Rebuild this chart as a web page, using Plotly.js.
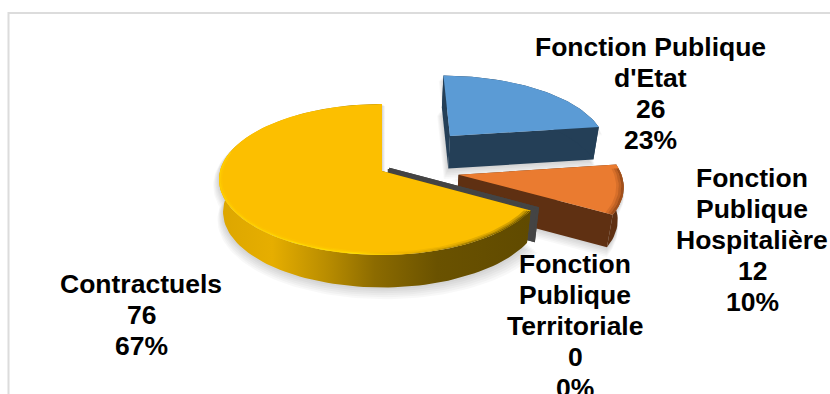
<!DOCTYPE html>
<html>
<head>
<meta charset="utf-8">
<script src="https://cdn.plot.ly/plotly-3.0.1.min.js"></script>
<style>html,body{margin:0;padding:0;background:#fff;overflow:hidden}#chart{width:830px;height:394px}</style>
</head>
<body>
<div id="chart"></div>
<script>
// Effectifs par type d'emploi
const categories = ["Fonction Publique d'Etat", "Fonction Publique Hospitalière", "Fonction Publique Territoriale", "Contractuels"];
const values = [26, 12, 0, 76];
const percents = [23, 10, 0, 67];
const labelLines = [["Fonction Publique", "d'Etat"], ["Fonction", "Publique", "Hospitalière"], ["Fonction", "Publique", "Territoriale"], ["Contractuels"]];

// Label block placement: centre x, first line y, in chart units
const labelAnchors = [[650, 47], [752, 178], [575, 264], [141, 284]];
const lineStep = 31;
const labelSize = 26.5;

// Slice displacement on the pie plane, in radius units
const sliceOffsets = [[0.443, 0.496], [0.47, -0.05], [0.044, 0.028], [0, 0]];

// Perspective camera for the tilted disc
const cam = {cx: 382, cy: 171, rx: 162, ry: 74.5, k: 0.1126, depth: 32.5, shrink: 0.975};

const topColors = ["#5b9bd5", "#ea7b30", "#444444", "#fcbf00"];
const wallColors = ["#243f57", "#5f3012", "#444444", "#6a5200"];
const yellowWallScale = [[0, "#dca600"], [0.17, "#e6ae00"], [0.35, "#b88c00"], [0.5, "#8c6b00"], [0.7, "#6a5200"], [1, "#604a00"]];

function project(X, Y) {
  const s = 1 / (1 + cam.k * Y);
  return [cam.cx + cam.rx * X * s, cam.cy - cam.ry * Y * s];
}
function lower(p) {
  return [cam.cx + (p[0] - cam.cx) * cam.shrink, p[1] + cam.depth];
}
function arc(i, a0, a1, r) {
  const pts = [], n = Math.max(2, Math.ceil(Math.abs(a1 - a0) / 2));
  for (let j = 0; j <= n; j++) {
    const t = (a0 + (a1 - a0) * j / n) * Math.PI / 180;
    pts.push(project(sliceOffsets[i][0] + r * Math.sin(t), sliceOffsets[i][1] + r * Math.cos(t)));
  }
  return pts;
}
function poly(pts, extra) {
  const closed = pts.concat([pts[0]]);
  return Object.assign({
    type: "scatter", mode: "lines", x: closed.map(p => p[0]), y: closed.map(p => p[1]),
    fill: "toself", line: {width: 0}, hoverinfo: "skip", showlegend: false
  }, extra);
}

// Slice spans follow from the values, clockwise from twelve o'clock
const total = values.reduce((a, b) => a + b, 0);
const spans = [];
values.reduce((acc, v) => { const end = acc + v / total * 360; spans.push([acc, end]); return end; }, 0);

const traces = [];

// Soft contact shadow: stacked, slightly grown copies of the faces
for (let level = 6; level >= 1; level--) {
  const xs = [], ys = [];
  spans.forEach((sp, i) => {
    if (values[i] === 0) return;
    const apex = project(sliceOffsets[i][0], sliceOffsets[i][1]);
    const face = [apex].concat(arc(i, sp[0], sp[1], 1));
    const gx = face.reduce((a, p) => a + p[0], 0) / face.length;
    const gy = face.reduce((a, p) => a + p[1], 0) / face.length;
    [face, face.map(lower)].forEach(f => {
      f.concat([f[0]]).forEach(p => {
        xs.push(gx + (p[0] - gx) * (1 + level * 0.009));
        ys.push(gy + (p[1] - gy) * (1 + level * 0.009) + level * 1.1);
      });
      xs.push(null); ys.push(null);
    });
  });
  traces.push({type: "scatter", mode: "lines", x: xs, y: ys, fill: "toself", fillcolor: "rgba(0,0,0,0.028)", line: {width: 0}, hoverinfo: "skip", showlegend: false});
}

// Back to front: Etat, Hospitalière, Territoriale, Contractuels
spans.forEach((sp, i) => {
  const apex = project(sliceOffsets[i][0], sliceOffsets[i][1]);
  const rim = arc(i, sp[0], sp[1], 1);
  const first = rim[0], last = rim[rim.length - 1];
  const wall = wallColors[i];
  const zero = values[i] === 0;
  const edge = zero ? {line: {width: 2.5, color: wall}} : {};
  traces.push(poly([apex, first, lower(first), lower(apex)], Object.assign({fillcolor: wall}, edge)));
  traces.push(poly([apex, last, lower(last), lower(apex)], Object.assign({fillcolor: wall}, edge)));
  if (zero) return;
  const outer = rim.concat(rim.slice().reverse().map(lower));
  if (i === 3) {
    traces.push(poly(outer, {fillgradient: {type: "horizontal", colorscale: yellowWallScale}}));
  } else {
    traces.push(poly(outer, {fillcolor: wall}));
  }
  traces.push(poly([apex].concat(rim), {fillcolor: topColors[i]}));
});

// Rim bevels: concentric bands that fade towards the inside of the face
function ring(i, a0, a1, r0, r1, extra) {
  return poly(arc(i, a0, a1, r0).concat(arc(i, a1, a0, r1)), extra);
}
const yellowBevel = [[0, "#ffcc00"], [0.2, "#ffd800"], [0.45, "#ffe000"], [0.58, "#f5bb00"], [0.75, "#b08800"], [1, "#6b5400"]];
const yellowBevelMid = [[0, "rgba(255,205,0,0.3)"], [0.45, "rgba(255,216,0,0.6)"], [0.6, "rgba(200,150,0,0.25)"], [1, "rgba(110,85,0,0.7)"]];
const yellowBevelSoft = [[0, "rgba(255,205,0,0)"], [0.45, "rgba(255,216,0,0.25)"], [0.6, "rgba(200,150,0,0.1)"], [1, "rgba(110,85,0,0.35)"]];
traces.push(ring(3, spans[3][0] + 1, 280, 0.98, 0.965, {fillgradient: {type: "horizontal", colorscale: yellowBevelSoft}}));
traces.push(ring(3, spans[3][0] + 0.8, 280, 0.99, 0.98, {fillgradient: {type: "horizontal", colorscale: yellowBevelMid}}));
traces.push(ring(3, spans[3][0] + 0.5, 285, 1, 0.99, {fillgradient: {type: "horizontal", colorscale: yellowBevel}}));
[[1, 0.985, 0.6], [0.985, 0.97, 0.35], [0.97, 0.955, 0.15]].forEach(b => {
  traces.push(ring(1, spans[1][0] + 3, spans[1][1], b[0], b[1], {fillcolor: "rgba(110,50,14," + b[2] + ")"}));
});

// Value labels: name lines, count, share
const annotations = [];
categories.forEach((c, i) => {
  const lines = labelLines[i].concat([String(values[i]), percents[i] + "%"]);
  lines.forEach((t, j) => annotations.push({
    x: labelAnchors[i][0], y: labelAnchors[i][1] + j * lineStep, xref: "x", yref: "y",
    text: "<b>" + t + "</b>", showarrow: false, xanchor: "center", yanchor: "middle",
    font: {family: "Liberation Sans, Arial, sans-serif", size: labelSize, color: "#000"}
  }));
});

const layout = {
  width: 830, height: 394, margin: {l: 0, r: 0, t: 0, b: 0},
  paper_bgcolor: "#fff", plot_bgcolor: "#fff", showlegend: false,
  xaxis: {range: [0, 830], visible: false, fixedrange: true},
  yaxis: {range: [394, 0], visible: false, fixedrange: true},
  annotations: annotations,
  shapes: [{type: "rect", xref: "x", yref: "y", x0: 8.5, y0: 13, x1: 860, y1: 420, line: {color: "#dcdcdc", width: 2}}]
};
Plotly.newPlot("chart", traces, layout, {displayModeBar: false, staticPlot: true});
</script>
</body>
</html>
